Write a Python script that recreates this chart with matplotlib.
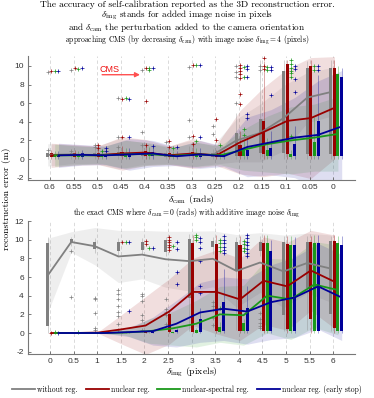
import matplotlib
matplotlib.use('Agg')
import matplotlib.pyplot as plt
from matplotlib.lines import Line2D
import numpy as np

plt.rcParams['mathtext.fontset'] = 'cm'
plt.rcParams['font.family'] = 'Liberation Sans'
plt.rcParams['axes.unicode_minus'] = False
SERIF = 'cmr10'

# methods: without reg., nuclear reg., nuclear-spectral reg., nuclear reg. (early stop)
methods = ['without reg.', 'nuclear reg.', 'nuclear-spectral reg.', 'nuclear reg. (early stop)']
colors = ['#808080', '#990000', '#1a991a', '#000099']

# ---- top panel: approaching CMS, x = delta_cam (rads)
cam_labels = ['0.6', '0.55', '0.5', '0.45', '0.4', '0.35', '0.3', '0.25', '0.2', '0.15', '0.1', '0.05', '0']
cam_mean = [[0.45, 0.5, 0.45, 0.55, 0.6, 0.4, 0.55, 0.45, 2.0, 2.8, 4.4, 6.6, 7.2],
            [0.4, 0.45, 0.4, 0.6, 0.7, 0.4, 0.6, 0.4, 1.8, 2.9, 4.1, 4.4, 5.5],
            [0.4, 0.4, 0.4, 0.5, 0.55, 0.35, 0.5, 0.4, 1.0, 1.6, 2.0, 2.3, 2.7],
            [0.4, 0.45, 0.4, 0.5, 0.6, 0.3, 0.5, 0.3, 1.3, 1.8, 2.3, 2.6, 3.5]]
cam_sd = [[1.2, 1.0, 0.9, 1.6, 1.2, 0.9, 1.4, 1.0, 2.3, 3.1, 3.5, 2.7, 2.6],
          [1.3, 1.1, 1.0, 1.8, 1.4, 1.0, 1.6, 1.1, 3.4, 4.8, 5.6, 6.5, 5.5],
          [1.2, 1.0, 0.9, 1.5, 1.2, 0.9, 1.3, 1.0, 2.2, 3.0, 3.6, 3.6, 4.0],
          [1.3, 1.1, 1.0, 1.7, 1.4, 1.0, 1.5, 1.1, 3.2, 3.5, 4.3, 5.8, 6.0]]
cam_q1 = [[0.25, 0.3, 0.3, 0.3, 0.3, 0.25, 0.3, 0.25, 0.3, 0.6, 0.6, 0.5, 0.5],
          [0.2, 0.25, 0.25, 0.3, 0.3, 0.2, 0.3, 0.2, 0.3, 0.5, 0.5, 0.3, 0.3],
          [0.2, 0.25, 0.25, 0.25, 0.3, 0.2, 0.25, 0.2, 0.3, 0.3, 0.2, 0.3, 0.3],
          [0.2, 0.25, 0.25, 0.25, 0.3, 0.2, 0.25, 0.2, 0.3, 0.3, 0.3, 0.3, 0.3]]
cam_q3 = [[0.6, 0.6, 0.6, 0.8, 0.8, 0.6, 0.7, 0.6, 2.8, 4.3, 9.5, 9.8, 9.8],
          [0.6, 0.6, 0.6, 0.8, 0.9, 0.6, 0.8, 0.6, 1.5, 4.1, 10.2, 10.0, 9.8],
          [0.55, 0.55, 0.55, 0.7, 0.8, 0.5, 0.7, 0.5, 1.0, 1.0, 0.5, 1.8, 9.1],
          [0.55, 0.6, 0.55, 0.7, 0.8, 0.5, 0.7, 0.5, 1.0, 1.2, 1.6, 4.1, 8.8]]
cam_wlo = [[0.05] * 13, [0.05] * 13, [0.05] * 13, [0.05] * 13]
cam_whi = [[1.0, 1.0, 1.1, 1.3, 1.4, 1.0, 1.4, 1.1, 5.0, 10.6, 10.6, 10.5, 10.6],
           [1.0, 1.0, 1.1, 1.4, 1.5, 1.0, 1.5, 1.0, 3.0, 10.5, 10.6, 10.6, 10.6],
           [0.9, 0.9, 1.0, 1.2, 1.3, 0.9, 1.2, 0.9, 2.0, 2.3, 1.0, 4.5, 10.0],
           [0.9, 1.0, 1.0, 1.2, 1.3, 0.9, 1.2, 0.9, 2.5, 3.0, 3.5, 9.0, 9.8]]
cam_out_gray = [(0, 9.3), (0, 1.0), (1, 9.6), (1, 0.9), (2, 1.3), (2, 1.5), (3, 6.6), (3, 2.4), (3, 1.3),
                (4, 9.6), (4, 2.9), (4, 1.5), (5, 1.8), (6, 9.9), (6, 4.2), (6, 2.4), (7, 3.5), (7, 2.7),
                (8, 10.0), (8, 9.3), (8, 8.8), (8, 6.0), (9, 10.0), (9, 9.6)]
cam_out_red = [(0, 9.45), (1, 9.75), (2, 1.2), (2, 1.5), (3, 6.5), (3, 2.4), (4, 9.8), (4, 6.2), (4, 1.5),
               (5, 1.9), (5, 1.3), (6, 10.1), (6, 2.5), (6, 1.6), (7, 4.3), (7, 2.0), (8, 10.1), (8, 9.8),
               (8, 9.5), (8, 9.1), (8, 8.7), (8, 7.0), (8, 5.9), (9, 10.9), (9, 10.0), (9, 9.7)]
cam_out_green = [(0, 9.45), (1, 9.65), (2, 0.9), (3, 6.6), (4, 9.6), (4, 9.8), (5, 1.2), (6, 10.1), (6, 1.9),
                 (7, 1.5), (8, 9.9), (8, 8.8), (8, 3.2), (8, 2.6), (9, 9.9), (9, 9.6), (10, 10.6), (10, 10.2),
                 (10, 9.8), (10, 9.5), (10, 9.2), (10, 8.8), (10, 2.5), (11, 10.0), (11, 9.6)]
cam_out_blue = [(0, 9.45), (1, 9.75), (2, 1.2), (2, 0.9), (3, 6.5), (3, 2.4), (4, 9.75), (4, 1.4), (5, 1.3),
                (6, 10.1), (6, 2.4), (8, 10.0), (8, 9.7), (8, 8.8), (8, 4.8), (8, 4.4), (9, 9.9), (9, 9.6),
                (9, 6.9), (10, 10.0), (10, 9.7), (10, 8.6), (10, 7.2), (11, 10.0), (11, 9.6)]

# ---- bottom panel: exact CMS, x = delta_img (pixels)
img_labels = ['0', '0.5', '1', '1.5', '2', '2.5', '3', '3.5', '4', '4.5', '5', '5.5', '6']
img_mean = [[6.15, 9.75, 9.3, 8.2, 8.4, 7.9, 7.7, 7.95, 6.65, 7.55, 6.6, 7.5, 6.9],
            [0.0, 0.0, 0.05, 0.4, 0.8, 2.3, 4.4, 4.4, 3.6, 5.6, 5.0, 6.7, 5.5],
            [0.0, 0.0, 0.0, 0.05, 0.2, 0.5, 1.0, 2.0, 1.9, 4.0, 3.6, 5.2, 4.6],
            [0.0, 0.0, 0.0, 0.1, 0.2, 1.0, 2.2, 2.6, 2.3, 3.3, 3.8, 5.0, 3.8]]
img_sd = [[4.0, 1.1, 2.0, 2.8, 2.6, 3.0, 3.2, 3.0, 3.9, 3.2, 3.9, 3.2, 3.6],
          [0.05, 0.05, 0.1, 1.6, 3.1, 3.5, 3.6, 4.5, 4.4, 4.7, 4.7, 4.3, 5.0],
          [0.05, 0.05, 0.05, 0.3, 1.3, 1.8, 2.5, 3.0, 3.2, 4.0, 4.3, 4.6, 4.8],
          [0.05, 0.05, 0.05, 0.5, 1.5, 2.5, 3.2, 3.4, 3.5, 4.0, 4.3, 4.6, 4.6]]
img_q1 = [[0.7, 9.6, 9.0, 8.8, 8.9, 8.7, 3.8, 9.2, 6.8, 8.8, 1.9, 4.8, 2.0],
          [0.0, 0.0, 0.0, 0.0, 0.0, 0.1, 0.1, 0.2, 0.2, 0.2, 0.4, 1.5, 0.5],
          [0.0, 0.0, 0.0, 0.0, 0.0, 0.0, 0.05, 0.1, 0.2, 0.2, 0.2, 0.2, 0.2],
          [0.0, 0.0, 0.0, 0.0, 0.0, 0.1, 0.1, 0.2, 0.2, 0.2, 0.2, 0.2, 0.2]]
img_q3 = [[9.6, 10.1, 9.7, 9.8, 9.7, 10.0, 10.1, 9.9, 9.8, 9.8, 9.8, 9.8, 9.9],
          [0.05, 0.05, 0.05, 0.08, 0.1, 2.0, 9.6, 9.5, 9.4, 9.6, 9.5, 9.8, 9.9],
          [0.05, 0.05, 0.05, 0.05, 0.05, 0.08, 0.3, 0.6, 1.1, 9.6, 9.4, 9.6, 9.6],
          [0.05, 0.05, 0.05, 0.05, 0.08, 0.3, 1.5, 3.3, 2.7, 8.8, 9.4, 9.6, 9.4]]
img_wlo = [[0.0, 9.3, 8.6, 8.2, 8.5, 8.3, 0.2, 8.5, 0.3, 8.2, 0.2, 0.3, 0.2],
           [0.0] * 13, [0.0] * 13, [0.0] * 13]
img_whi = [[10.3, 10.3, 10.2, 10.2, 10.2, 10.3, 10.6, 10.3, 10.3, 10.4, 10.4, 10.4, 10.4],
           [0.1, 0.1, 0.1, 0.15, 0.2, 2.5, 10.5, 10.5, 10.4, 10.5, 10.4, 10.4, 10.5],
           [0.1, 0.1, 0.1, 0.1, 0.1, 0.15, 0.5, 1.2, 1.5, 10.5, 10.4, 10.5, 10.4],
           [0.1, 0.1, 0.1, 0.1, 0.15, 0.5, 2.7, 6.9, 5.0, 10.0, 10.3, 10.5, 10.4]]
img_out_gray = [(1, 3.9), (1, 8.8), (2, 3.8), (2, 3.6), (2, 2.1), (2, 0.5), (2, 0.3), (3, 4.6), (3, 4.2),
                (3, 3.6), (3, 2.9), (3, 2.2), (3, 1.8), (3, 1.0), (3, 0.3), (4, 4.2), (4, 4.0), (4, 3.4),
                (4, 1.9), (4, 1.4), (4, 0.3), (5, 3.6), (5, 2.6), (5, 2.3), (5, 1.9), (5, 1.0), (7, 3.3),
                (7, 2.9), (7, 2.5), (7, 1.6), (7, 0.9), (9, 2.1), (9, 1.5), (9, 1.1), (9, 0.8), (9, 0.5)]
img_out_red = [(0, 0.0), (3, 9.8), (4, 9.9), (4, 9.5), (5, 10.3), (5, 10.0), (5, 9.7), (5, 9.4), (5, 9.2),
               (5, 8.9)]
img_out_green = [(0, 0.1), (1, 0.1), (3, 9.8), (4, 9.1), (5, 9.3), (6, 10.5), (6, 10.3), (6, 10.0), (7, 10.0),
                 (7, 9.6), (7, 9.2), (7, 8.8), (7, 2.7), (8, 9.9), (8, 9.5), (8, 9.1), (8, 8.8)]
img_out_blue = [(0, 0.0), (3, 9.8), (3, 2.4), (4, 9.1), (5, 9.8), (5, 9.0), (5, 6.5), (5, 5.3), (6, 10.2),
                (6, 9.8), (6, 9.1), (6, 7.7), (6, 5.0), (6, 4.3), (7, 10.4), (7, 10.0), (7, 9.6), (7, 9.2),
                (7, 8.9), (7, 8.6), (8, 10.5), (8, 10.2), (8, 9.8), (8, 9.4), (8, 9.0), (8, 8.6), (8, 8.3)]

offsets = [-0.1, 0.05, 0.2, 0.36]
box_w = 0.13
H = 398.0


def draw_panel(ax, labels, mean, sd, q1, q3, wlo, whi, outliers, ylim, yticks):
    x = np.arange(len(labels))
    for xi in x:
        ax.axvline(xi, color='#d4d4d4', lw=0.6, ls=(0, (4, 3)), zorder=0)
    # shaded spread bands
    for m in range(4):
        mu = np.array(mean[m])
        s = np.array(sd[m])
        ax.fill_between(x + offsets[m], mu - s, mu + s, color=colors[m], alpha=0.13, lw=0, zorder=1)
    # boxes, whiskers, outliers
    for m in range(4):
        xm = x + offsets[m]
        ax.vlines(xm, wlo[m], whi[m], color=colors[m], lw=0.6, alpha=0.4, zorder=2)
        lo = np.array(q1[m])
        hi = np.array(q3[m])
        ax.bar(xm, hi - lo, bottom=lo, width=box_w, color=colors[m], lw=0, zorder=3)
        pts = np.array(outliers[m])
        ax.plot(pts[:, 0] + offsets[m], pts[:, 1], '+', color=colors[m], ms=2.5, mew=0.5, zorder=3)
    # mean lines
    for m in range(4):
        ax.plot(x + offsets[m], mean[m], color=colors[m], lw=1.3, zorder=5)

    ax.set_xlim(-0.93, 12.92)
    ax.set_ylim(*ylim)
    ax.set_xticks(x)
    ax.set_xticklabels(labels)
    ax.set_yticks(yticks)
    ax.tick_params(labelsize=6, length=2, width=0.6, direction='in', pad=3,
                   colors='#666666', labelcolor='#333333')
    for side in ['top', 'right']:
        ax.spines[side].set_visible(False)
    for side in ['left', 'bottom']:
        ax.spines[side].set_color('#777777')
        ax.spines[side].set_linewidth(0.8)


fig = plt.figure(figsize=(3.74, 3.98), dpi=100)
ax1 = fig.add_axes([0.075, 1 - 180 / H, 0.874, 124 / H])
ax2 = fig.add_axes([0.075, 1 - 354 / H, 0.874, 133 / H])

draw_panel(ax1, cam_labels, cam_mean, cam_sd, cam_q1, cam_q3, cam_wlo, cam_whi,
           [cam_out_gray, cam_out_red, cam_out_green, cam_out_blue], (-2.25, 11.07), [-2, 0, 2, 4, 6, 8, 10])
draw_panel(ax2, img_labels, img_mean, img_sd, img_q1, img_q3, img_wlo, img_whi,
           [img_out_gray, img_out_red, img_out_green, img_out_blue], (-2.25, 12.0), [-2, 0, 2, 4, 6, 8, 10, 12])

# CMS arrow
ax1.annotate('', xy=(3.93, 9.06), xytext=(2.09, 9.06),
             arrowprops=dict(arrowstyle='-|>', color='#ff5050', lw=1.0, mutation_scale=7), zorder=6)
ax1.text(2.5, 9.65, 'CMS', color='#ee1111', fontsize=6.5, ha='center', va='center', zorder=6)

xc = 0.075 + 0.874 / 2
fig.text(0.5, 1 - 5 / H, 'The accuracy of self-calibration reported as the 3D reconstruction error.',
         ha='center', va='center', fontsize=6.8, family=SERIF)
fig.text(0.5, 1 - 15.5 / H, r'$\delta_{\rm img}$ stands for added image noise in pixels',
         ha='center', va='center', fontsize=6.6, family=SERIF)
fig.text(0.5, 1 - 28 / H, r'and $\delta_{\rm cam}$ the perturbation added to the camera orientation',
         ha='center', va='center', fontsize=6.6, family=SERIF)
fig.text(0.5, 1 - 40 / H,
         r'approaching CMS (by decreasing $\delta_{\rm cam}$) with image noise $\delta_{\rm img}=4$ (pixels)',
         ha='center', va='center', fontsize=5.5, family=SERIF)
fig.text(xc, 1 - 200 / H, r'$\delta_{\rm cam}$ (rads)', ha='center', va='center', fontsize=7, family=SERIF)
fig.text(0.5, 1 - 213 / H,
         r'the exact CMS where $\delta_{\rm cam}=0$ (rads) with additive image noise $\delta_{\rm img}$',
         ha='center', va='center', fontsize=5.5, family=SERIF)
fig.text(xc, 1 - 372 / H, r'$\delta_{\rm img}$ (pixels)', ha='center', va='center', fontsize=7, family=SERIF)
fig.text(7 / 374, 0.5, 'reconstruction error (m)', rotation=90, ha='center', va='center',
         fontsize=7, family=SERIF)

handles = [Line2D([], [], color=c, lw=1.3) for c in colors]
fig.legend(handles, methods, loc='center', bbox_to_anchor=(0.5, 1 - 389 / H), ncol=4, frameon=False,
           prop={'family': SERIF, 'size': 5.5}, handlelength=3.0, handletextpad=0.3, columnspacing=1.0,
           borderpad=0)

fig.savefig('out.png', dpi=100)
